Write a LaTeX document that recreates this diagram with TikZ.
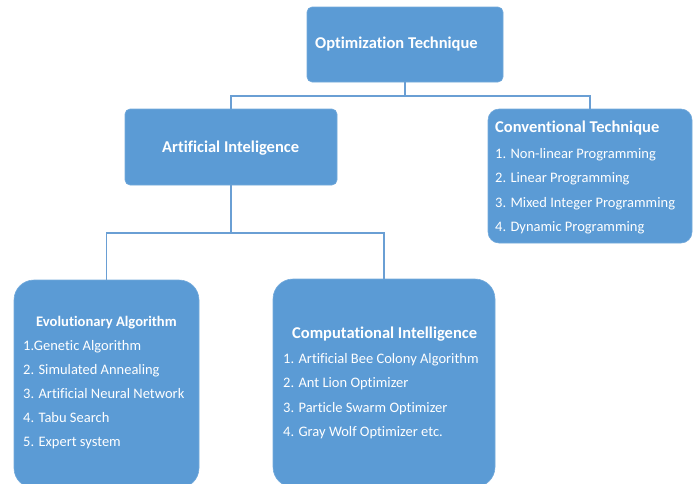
\documentclass[tikz,border=0pt]{standalone}
\usepackage{fontspec}
\setmainfont{Carlito}[Ligatures=NoCommon]
\definecolor{boxblue}{HTML}{5B9BD5}
\definecolor{lineblue}{HTML}{6A9FD4}
\begin{document}
\begin{tikzpicture}[x=1pt,y=-1pt,
  box/.style={draw=boxblue!85!white, line width=0.6pt, fill=boxblue, inner sep=0pt},
  ttl/.style={anchor=base west, inner sep=0pt, text=white, font=\fontsize{16.5}{19}\selectfont\bfseries},
  sttl/.style={ttl, font=\fontsize{14.6}{17}\selectfont\bfseries},
  itm/.style={anchor=base west, inner sep=0pt, text=white, font=\fontsize{14.5}{17}\selectfont},
  conn/.style={draw=lineblue, line width=1.2pt}]
\useasboundingbox (0,0) rectangle (695,483);
% boxes
\node[box, rounded corners=5pt, minimum width=196pt, minimum height=75pt] (opt) at (405,44.5) {};
\node[box, rounded corners=5pt, minimum width=212pt, minimum height=76pt] (ai) at (231,147) {};
\node[box, rounded corners=11pt, minimum width=204pt, minimum height=134pt] (conv) at (590,176) {};
\node[box, rounded corners=20pt, minimum width=185pt, minimum height=208pt] (evo) at (106.5,384) {};
\node[box, rounded corners=20pt, minimum width=222pt, minimum height=208pt] (comp) at (384,383) {};
% junctions
\coordinate (j1) at (405,96);
\coordinate (j2) at (231,233);
% connectors
\draw[conn] (opt.south) -- (j1);
\draw[conn] (j1) -| (ai.north);
\draw[conn] (j1) -| (conv.north);
\draw[conn] (ai.south) -- (j2);
\draw[conn] (j2) -| (evo.north);
\draw[conn] (j2) -| (comp.north);
% texts
\node[ttl] (t1) at (315,48.5) {Optimization Technique};
\node[ttl] (t2) at (162,152.5) {Artificial Inteligence};
\node[ttl] (t3) at (495,132.5) {Conventional Technique};
\node[itm] (c1) at (495,158) {1. Non-linear Programming};
\node[itm] (c2) at (495,182) {2. Linear Programming};
\node[itm] (c3) at (495,207) {3. Mixed Integer Programming};
\node[itm] (c4) at (495,231) {4. Dynamic Programming};
\node[sttl] (t4) at (36,326) {Evolutionary Algorithm};
\node[itm] (e1) at (23,350) {1.Genetic Algorithm};
\node[itm] (e2) at (23,374) {2. Simulated Annealing};
\node[itm] (e3) at (23,398) {3. Artificial Neural Network};
\node[itm] (e4) at (23,422) {4. Tabu Search};
\node[itm] (e5) at (23,446) {5. Expert system};
\node[ttl] (t5) at (292,338.5) {Computational Intelligence};
\node[itm] (p1) at (283,363) {1. Artificial Bee Colony Algorithm};
\node[itm] (p2) at (283,387) {2. Ant Lion Optimizer};
\node[itm] (p3) at (283,412) {3. Particle Swarm Optimizer};
\node[itm] (p4) at (283,436) {4. Gray Wolf Optimizer etc.};
\end{tikzpicture}
\end{document}
